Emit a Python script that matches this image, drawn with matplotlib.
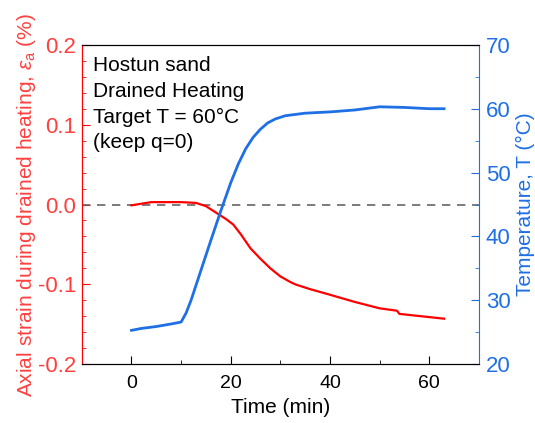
import numpy as np
import matplotlib.pyplot as plt
from matplotlib.ticker import MultipleLocator

plt.rcParams['font.family'] = ['Liberation Sans', 'DejaVu Sans']
plt.rcParams['mathtext.fontset'] = 'custom'
plt.rcParams['mathtext.rm'] = 'Liberation Sans'
plt.rcParams['mathtext.it'] = 'Liberation Sans:italic'

# temperature record
t_temp = [0, 2, 5, 8, 10, 11, 12, 14, 16, 18, 20, 21.5, 23, 24.5, 26, 27.5, 29, 31, 35, 40, 45, 50, 55, 60, 63]
temp = [25.3, 25.6, 25.9, 26.3, 26.6, 28.0, 30.0, 34.7, 39.4, 44.0, 48.4, 51.3, 53.7, 55.5, 56.8, 57.8, 58.4,
        58.9, 59.3, 59.5, 59.8, 60.3, 60.2, 60.0, 60.0]

# axial strain record
t_strain = [0, 2, 4, 7, 10, 13, 15, 17, 19, 20.5, 22, 24, 26, 28, 30, 32, 33, 36, 40, 45, 50, 53.5, 54, 57, 60, 63]
strain = [-0.001, 0.001, 0.003, 0.003, 0.003, 0.002, -0.002, -0.010, -0.018, -0.025, -0.037, -0.055, -0.068,
          -0.080, -0.090, -0.097, -0.100, -0.106, -0.113, -0.122, -0.130, -0.133, -0.137, -0.139, -0.141, -0.143]

red = '#ff0000'
red_txt = '#ff4040'
blue = '#1f6fe5'

fig = plt.figure(figsize=(5.35, 4.23), dpi=100)
ax = fig.add_axes([0.153, 0.139, 0.742, 0.755])
ax2 = ax.twinx()

ax.axhline(0, color='#666666', lw=1.2, ls=(0, (5, 4)))
ax.plot(t_strain, strain, color=red, lw=1.6)
ax2.plot(t_temp, temp, color=blue, lw=2)

ax.set_xlim(-10, 70)
ax.set_ylim(-0.2, 0.2)
ax2.set_ylim(20, 70)

ax.xaxis.set_major_locator(MultipleLocator(20))
ax.xaxis.set_minor_locator(MultipleLocator(10))
ax.yaxis.set_major_locator(MultipleLocator(0.1))
ax.yaxis.set_minor_locator(MultipleLocator(0.02))
ax2.yaxis.set_major_locator(MultipleLocator(10))
ax2.yaxis.set_minor_locator(MultipleLocator(5))

ax.set_yticks([-0.2, -0.1, 0.0, 0.1, 0.2])
ax.set_yticklabels(['-0.2', '-0.1', '0.0', '0.1', '0.2'])

ax.tick_params(axis='x', which='both', direction='in', top=False, labelsize=14, pad=8)
ax.tick_params(axis='x', which='major', length=6)
ax.tick_params(axis='x', which='minor', length=3)
ax.tick_params(axis='y', which='both', direction='in', colors=red, labelcolor=red_txt, labelsize=16, pad=4)
ax.tick_params(axis='y', which='major', length=6)
ax.tick_params(axis='y', which='minor', length=3)
ax2.tick_params(axis='y', which='both', direction='in', colors=blue, labelcolor=blue, labelsize=16, pad=5)
ax2.tick_params(axis='y', which='major', length=6)
ax2.tick_params(axis='y', which='minor', length=3)

ax2.spines['left'].set_color(red)
ax2.spines['right'].set_color(blue)
ax.spines['left'].set_color(red)
ax.spines['right'].set_visible(False)

ax.set_xlabel('Time (min)', fontsize=15, labelpad=4)
ax.set_ylabel(r'Axial strain during drained heating, $\varepsilon_{\rm a}$ (%)', fontsize=15,
              color=red_txt, labelpad=0)
ax2.set_ylabel('Temperature, T (°C)', fontsize=15, color=blue, labelpad=4)

ax.text(0.027, 0.965, 'Hostun sand\nDrained Heating\nTarget T = 60°C\n(keep q=0)', transform=ax.transAxes,
        fontsize=15, va='top', ha='left', linespacing=1.45)

fig.savefig('out.png', dpi=100)
